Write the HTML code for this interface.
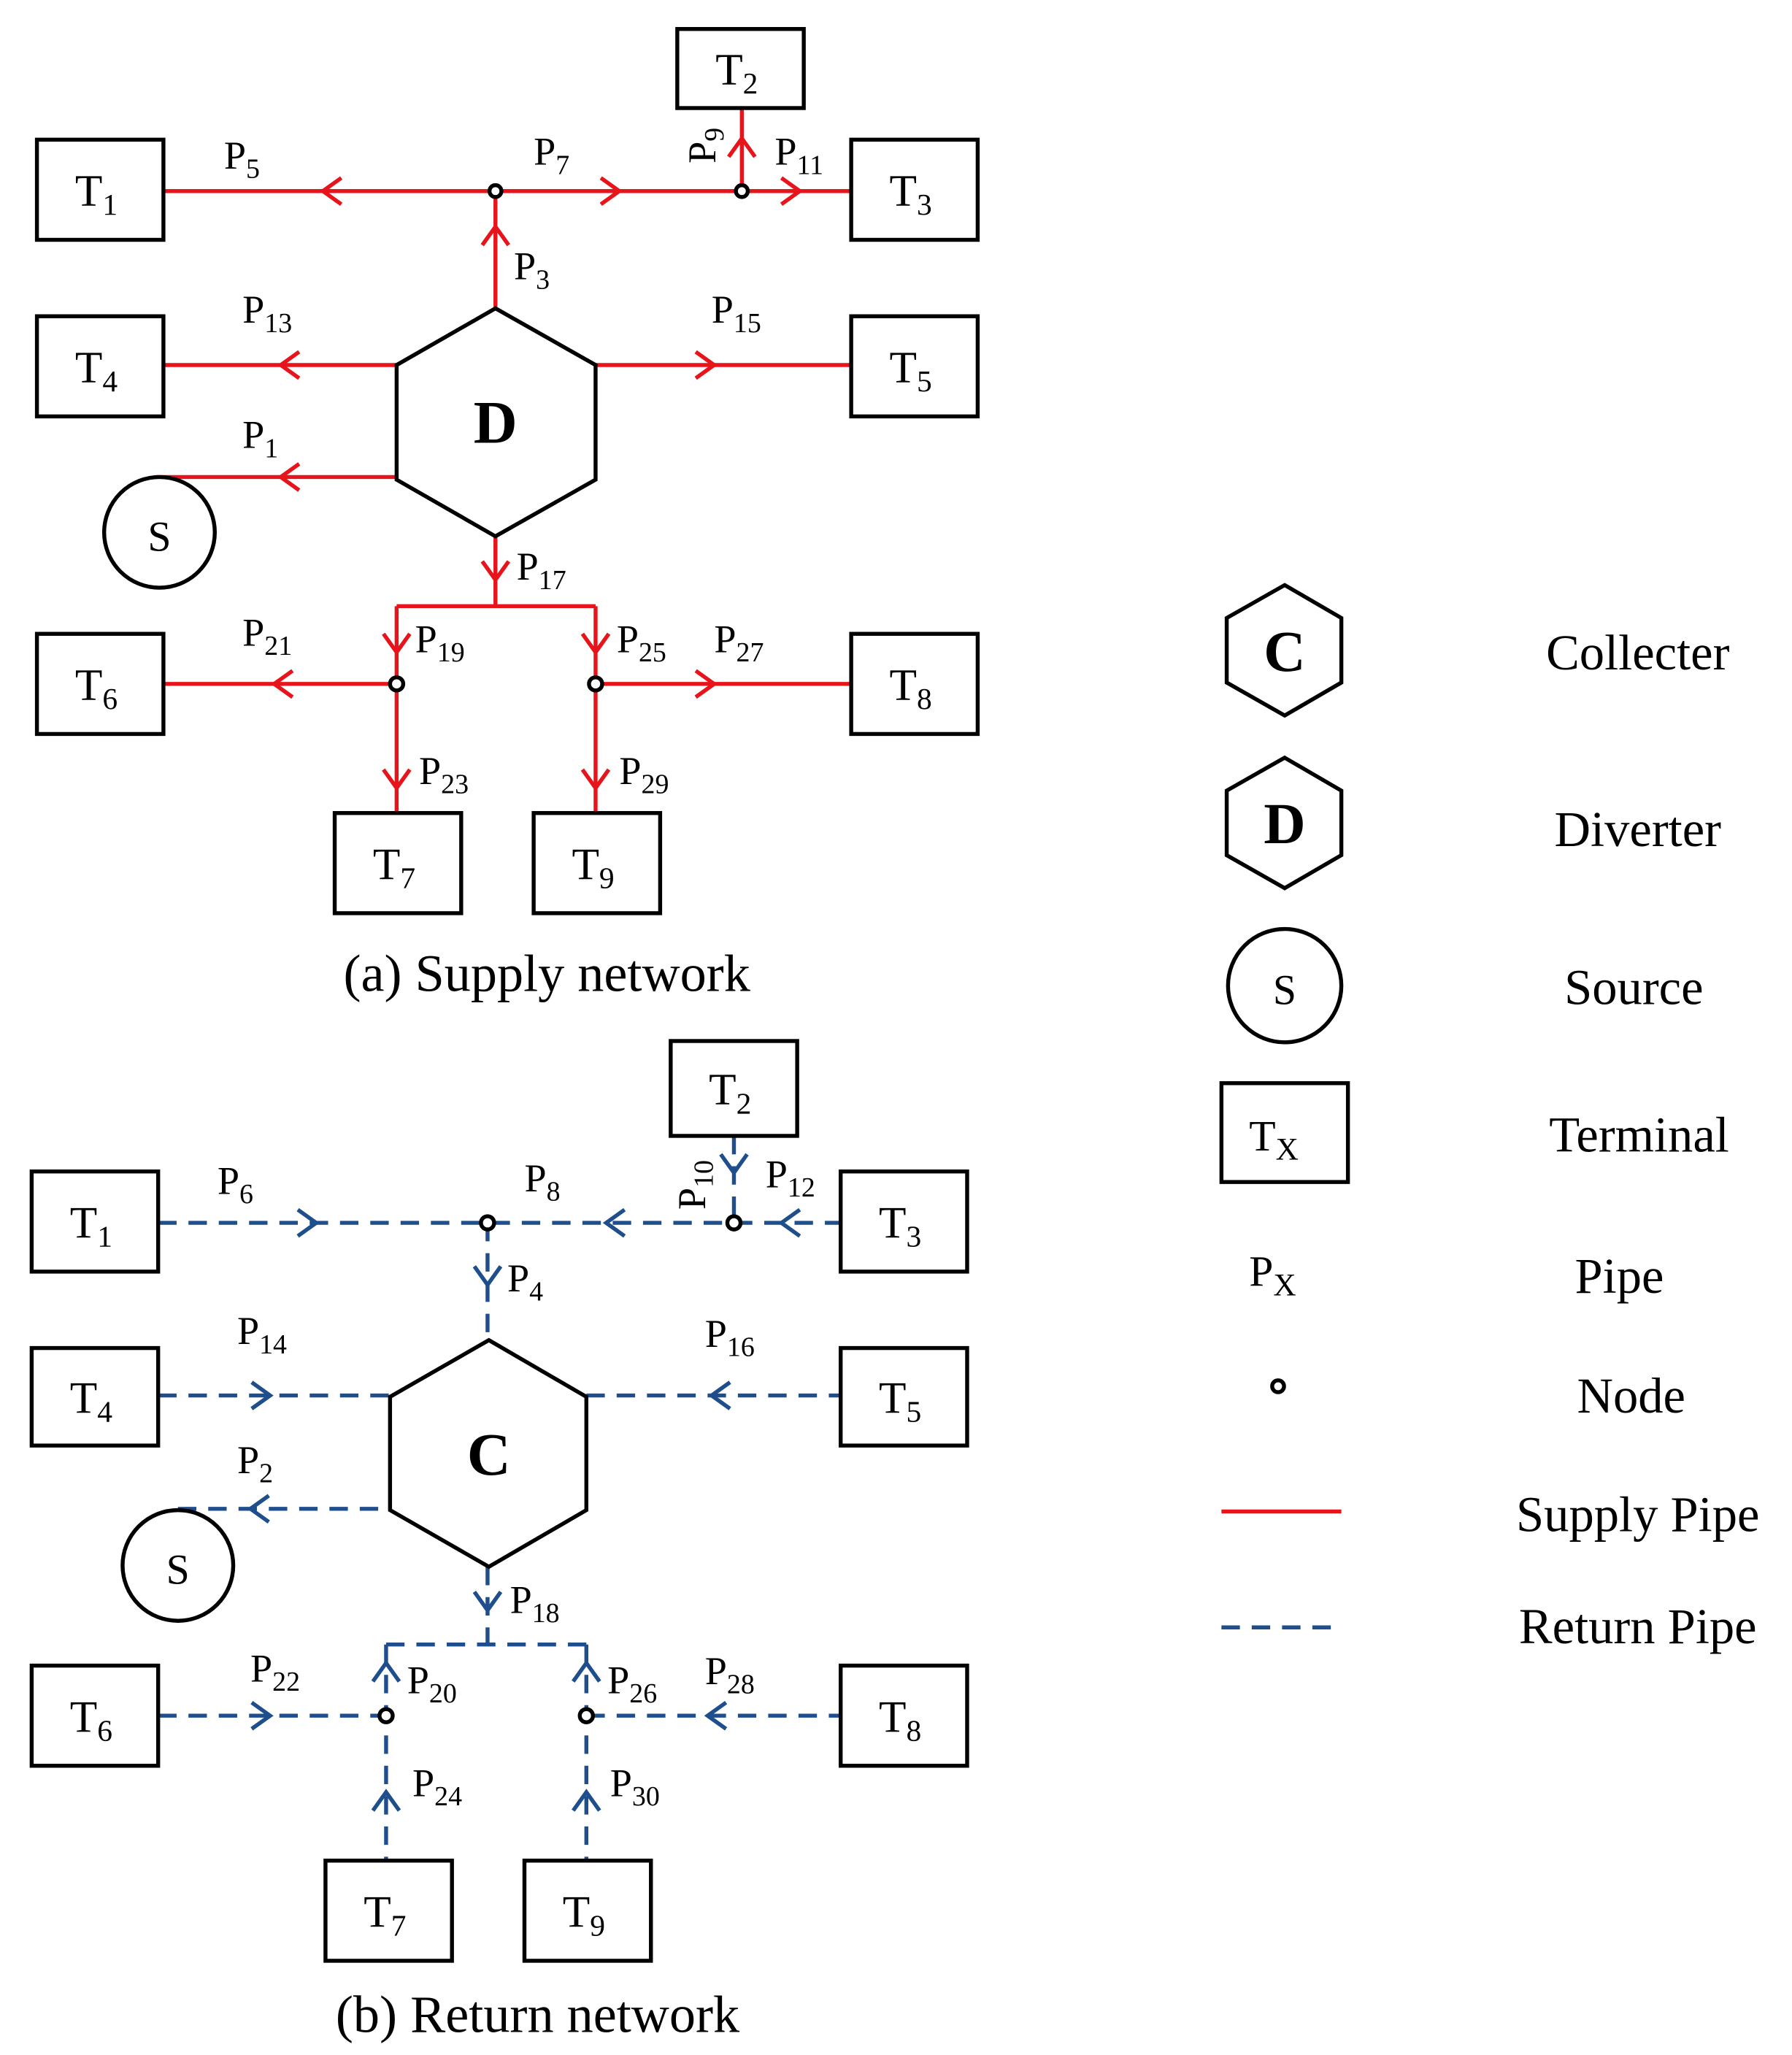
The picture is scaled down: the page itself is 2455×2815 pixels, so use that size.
<!DOCTYPE html>
<html><head><meta charset="utf-8"><style>
html,body{margin:0;padding:0;background:#fff}
svg{display:block}
text{font-family:"Liberation Serif",serif;fill:#000}
.l{font-size:30px}
.s{font-size:21px}
.box{fill:#fff;stroke:#000;stroke-width:3}
.r{stroke:#e8141b;stroke-width:3;fill:none}
.b{stroke:#1f4e8c;stroke-width:3;fill:none;stroke-dasharray:14 9}
.ar{stroke:#e8141b;stroke-width:3;fill:none}
.ab{stroke:#1f4e8c;stroke-width:3;fill:none}
.cap{font-size:40px}
.lg{font-size:38px}
</style></head><body>
<svg id="s" width="2455" height="2815" viewBox="0 0 1360 1559.5" xmlns="http://www.w3.org/2000/svg">
<g class="r">
<line x1="124" y1="145" x2="646" y2="145"/>
<line x1="563" y1="82" x2="563" y2="145"/>
<line x1="376" y1="145" x2="376" y2="234"/>
<line x1="124" y1="277" x2="301" y2="277"/>
<line x1="452" y1="277" x2="646" y2="277"/>
<line x1="118" y1="362" x2="301" y2="362"/>
<line x1="376" y1="407" x2="376" y2="460"/>
<line x1="301" y1="460" x2="452" y2="460"/>
<line x1="301" y1="460" x2="301" y2="617"/>
<line x1="452" y1="460" x2="452" y2="617"/>
<line x1="124" y1="519" x2="301" y2="519"/>
<line x1="452" y1="519" x2="646" y2="519"/>
</g>
<g class="b">
<line x1="120" y1="928" x2="638" y2="928"/>
<line x1="557" y1="862" x2="557" y2="928"/>
<line x1="370" y1="928" x2="370" y2="1017"/>
<line x1="120" y1="1059" x2="296" y2="1059"/>
<line x1="445" y1="1059" x2="638" y2="1059"/>
<line x1="135" y1="1145" x2="296" y2="1145"/>
<line x1="370" y1="1189" x2="370" y2="1248"/>
<line x1="293" y1="1248" x2="445" y2="1248"/>
<line x1="293" y1="1248" x2="293" y2="1412"/>
<line x1="445" y1="1248" x2="445" y2="1412"/>
<line x1="120" y1="1302" x2="293" y2="1302"/>
<line x1="445" y1="1302" x2="638" y2="1302"/>
</g>
<g id="arrows"></g>
<polygon class="box" points="376,234 452,277 452,364 376,407 301,364 301,277"/>
<text x="376" y="336" text-anchor="middle" style="font-size:46px;font-weight:bold">D</text>
<circle class="box" cx="121" cy="404" r="42"/>
<text x="121" y="418" text-anchor="middle" style="font-size:32px">S</text>
<polygon class="box" points="371,1017 445,1060 445,1146 371,1189 296,1146 296,1060"/>
<text x="371" y="1119" text-anchor="middle" style="font-size:46px;font-weight:bold">C</text>
<circle class="box" cx="135" cy="1188" r="42"/>
<text x="135" y="1202" text-anchor="middle" style="font-size:32px">S</text>
<g id="boxes"></g>
<g fill="#fff" stroke="#000" stroke-width="3">
<circle cx="376" cy="145" r="4.5"/><circle cx="563" cy="145" r="4.5"/>
<circle cx="301" cy="519" r="5"/><circle cx="452" cy="519" r="5"/>
<circle cx="370" cy="928" r="5"/><circle cx="557" cy="928" r="5"/>
<circle cx="293" cy="1302" r="5"/><circle cx="445" cy="1302" r="5"/>
<circle cx="970" cy="1052" r="4.5"/>
</g>
<g id="labels"></g>
<text class="l" transform="translate(543,124) rotate(-90)">P<tspan class="s" dy="6">9</tspan></text>
<text class="l" transform="translate(535,918) rotate(-90)">P<tspan class="s" dy="6">10</tspan></text>
<text class="cap" x="415" y="752" text-anchor="middle">(a) Supply network</text>
<text class="cap" x="408" y="1542" text-anchor="middle">(b) Return network</text>
<polygon class="box" points="975,444 1018,469 1018,518 975,543 931,518 931,469"/>
<text x="975" y="509" text-anchor="middle" style="font-size:44px;font-weight:bold">C</text>
<polygon class="box" points="975,575 1018,600 1018,649 975,674 931,649 931,600"/>
<text x="975" y="640" text-anchor="middle" style="font-size:44px;font-weight:bold">D</text>
<circle class="box" cx="975" cy="748" r="43"/>
<text x="975" y="762" text-anchor="middle" style="font-size:32px">S</text>
<rect class="box" x="927" y="822" width="96" height="75"/>
<text x="948" y="873" style="font-size:33px">T<tspan style="font-size:24px" dy="7">X</tspan></text>
<text x="948" y="976" style="font-size:33px">P<tspan style="font-size:24px" dy="7">X</tspan></text>
<line x1="927" y1="1147" x2="1018" y2="1147" stroke="#e8141b" stroke-width="3"/>
<line x1="927" y1="1235" x2="1018" y2="1235" stroke="#1f4e8c" stroke-width="3" stroke-dasharray="14 9"/>
<g class="lg" text-anchor="middle">
<text x="1243" y="508">Collecter</text>
<text x="1243" y="642">Diverter</text>
<text x="1240" y="762">Source</text>
<text x="1244" y="874">Terminal</text>
<text x="1229" y="981">Pipe</text>
<text x="1238" y="1072">Node</text>
<text x="1243" y="1162">Supply Pipe</text>
<text x="1243" y="1247">Return Pipe</text>
</g>
</svg>
<script>
var NS="http://www.w3.org/2000/svg";
function el(p,t,a,txt){var e=document.createElementNS(NS,t);for(var k in a)e.setAttribute(k,a[k]);if(txt!==undefined)e.textContent=txt;p.appendChild(e);return e;}
var A=document.getElementById("arrows");
function ar(x,y,d,c){var L=14,W=10,p;
 if(d=="l")p=[x+L,y-W,x,y,x+L,y+W];
 if(d=="r")p=[x-L,y-W,x,y,x-L,y+W];
 if(d=="u")p=[x-W,y+L,x,y,x+W,y+L];
 if(d=="d")p=[x-W,y-L,x,y,x+W,y-L];
 el(A,"polyline",{points:p.join(","),"class":c});}
[[245,145,"l"],[470,145,"r"],[607,145,"r"],[563,105,"u"],[376,172,"u"],[213,277,"l"],[542,277,"r"],[213,362,"l"],[376,440,"d"],[301,495,"d"],[452,495,"d"],[208,519,"l"],[542,519,"r"],[301,598,"d"],[452,598,"d"]].forEach(function(a){ar(a[0],a[1],a[2],"ar")});
[[240,928,"r"],[460,928,"l"],[593,928,"l"],[557,890,"d"],[370,975,"d"],[205,1059,"r"],[540,1059,"l"],[190,1145,"l"],[370,1222,"d"],[293,1262,"u"],[445,1262,"u"],[205,1302,"r"],[537,1302,"l"],[293,1360,"u"],[445,1360,"u"]].forEach(function(a){ar(a[0],a[1],a[2],"ab")});
var B=document.getElementById("boxes");
[[28,106,"1"],[514,22,"2",60],[646,106,"3"],[28,240,"4"],[646,240,"5"],[28,481,"6"],[646,481,"8"],[254,617,"7"],[405,617,"9"],
 [24,889,"1"],[509,790,"2",72],[638,889,"3"],[24,1023,"4",74],[638,1023,"5",74],[24,1264,"6"],[638,1264,"8"],[247,1412,"7"],[398,1412,"9"]].forEach(function(b){
 var h=b[3]||76;el(B,"rect",{x:b[0],y:b[1],width:96,height:h,"class":"box"});
 var t=el(B,"text",{x:b[0]+29,y:b[1]+h/2+12,style:"font-size:34px"},"T");
 el(t,"tspan",{dy:7,style:"font-size:23px"},b[2]);});
var Lb=document.getElementById("labels");
[[170,128,"5"],[405,125,"7"],[588,125,"11"],[390,212,"3"],[184,245,"13"],[540,245,"15"],[184,340,"1"],[392,440,"17"],[184,490,"21"],[315,495,"19"],[468,495,"25"],[542,495,"27"],[318,595,"23"],[470,595,"29"],
 [165,906,"6"],[398,904,"8"],[581,901,"12"],[385,980,"4"],[180,1020,"14"],[535,1022,"16"],[180,1118,"2"],[387,1224,"18"],[190,1276,"22"],[309,1285,"20"],[461,1285,"26"],[535,1278,"28"],[313,1363,"24"],[463,1363,"30"]].forEach(function(l){
 var t=el(Lb,"text",{x:l[0],y:l[1],"class":"l"},"P");el(t,"tspan",{dy:7,"class":"s"},l[2]);});
</script>
</body></html>
